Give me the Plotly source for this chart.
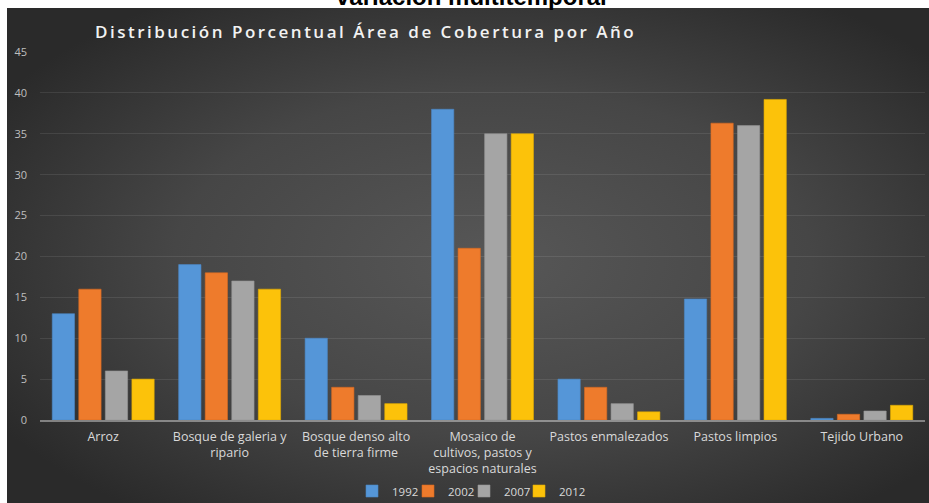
import base64
import plotly.graph_objects as go

categories = [
    "Arroz",
    "Bosque de galeria y<br>ripario",
    "Bosque denso alto<br>de tierra firme",
    "Mosaico de<br>cultivos, pastos y<br>espacios naturales",
    "Pastos enmalezados",
    "Pastos limpios",
    "Tejido Urbano",
]
years = ["1992", "2002", "2007", "2012"]
v1992 = [13, 19, 10, 38, 5, 14.8, 0.2]
v2002 = [16, 18, 4, 21, 4, 36.3, 0.7]
v2007 = [6, 17, 3, 35, 2, 36.0, 1.1]
v2012 = [5, 16, 2, 35, 1, 39.2, 1.8]
series = [v1992, v2002, v2007, v2012]
colors = ["#5596D8", "#EE7B2C", "#A5A5A5", "#FCC20A"]
edge = ["#4B86C4", "#D96A20", "#939393", "#E3AD00"]
legend_ids = ["legend", "legend2", "legend3", "legend4"]
legend_left = [352, 408, 464, 519]

W, H = 929, 503
L, R, T, B = 40, 4, 52, 83
pw, ph = W - L - R, H - T - B


def py(pix):
    """screen pixel (from top) -> paper y"""
    return (T + ph - pix) / ph


def px(pix):
    return (pix - L) / pw


BX, BY = 7, 8  # dark chart panel starts here
bw, bh = W - BX + 12, H - BY + 12
svg = (
    f'<svg xmlns="http://www.w3.org/2000/svg" width="{bw}" height="{bh}" viewBox="0 0 {bw} {bh}" preserveAspectRatio="none">'
    '<defs><radialGradient id="g" cx="0.52" cy="0.5" r="0.62">'
    '<stop offset="0" stop-color="#575757"/>'
    '<stop offset="0.55" stop-color="#464646"/>'
    '<stop offset="1" stop-color="#2a2a2a"/>'
    '</radialGradient></defs>'
    f'<rect width="{bw}" height="{bh}" fill="url(#g)"/></svg>'
)
bg_src = "data:image/svg+xml;base64," + base64.b64encode(svg.encode()).decode()

fig = go.Figure()
for name, vals, c, e, lg in zip(years, series, colors, edge, legend_ids):
    fig.add_trace(go.Bar(
        x=categories, y=vals, name=name, legend=lg,
        marker=dict(color=c, line=dict(color=e, width=0.6)),
    ))

legend_font = dict(family="Open Sans", size=11.5, color="#D9D9D9")
legends = {}
for lg, left in zip(legend_ids, legend_left):
    legends[lg] = dict(
        orientation="h",
        x=px(left), xanchor="left",
        y=py(491), yanchor="middle",
        font=legend_font,
        bgcolor="rgba(0,0,0,0)",
    )

fig.update_layout(
    width=W, height=H,
    margin=dict(l=L, r=R, t=T, b=B, autoexpand=False),
    paper_bgcolor="white",
    plot_bgcolor="rgba(0,0,0,0)",
    barmode="group",
    bargap=0.16,
    bargroupgap=0.16,
    showlegend=True,
    images=[dict(
        source=bg_src, xref="paper", yref="paper",
        x=px(BX), y=py(BY),
        sizex=bw / pw, sizey=bh / ph,
        xanchor="left", yanchor="top",
        sizing="stretch", layer="below",
    )],
    annotations=[
        dict(
            text='<span style="letter-spacing:2.5px">Distribución Porcentual Área de Cobertura por Año</span>',
            xref="paper", yref="paper",
            x=px(93), xanchor="left",
            y=py(32), yanchor="middle",
            showarrow=False,
            font=dict(family="Open Sans", size=17, color="#F2F2F2", weight=600),
        ),
        dict(
            text="<b>variación multitemporal</b>",
            xref="paper", yref="paper",
            x=px(471), xanchor="center",
            y=py(12), yanchor="bottom",
            showarrow=False,
            font=dict(family="Liberation Sans", size=24, color="#000000"),
        ),
    ],
    **legends,
)

fig.update_yaxes(
    range=[0, 45], dtick=5,
    showgrid=True, gridcolor="rgba(255,255,255,0.09)", gridwidth=1,
    zeroline=False,
    showline=False,
    tickfont=dict(family="Open Sans", size=11, color="#BFBFBF"),
    ticklabelstandoff=12,
)
fig.update_xaxes(
    showgrid=False,
    showline=True, linecolor="rgba(255,255,255,0.4)", linewidth=1.5,
    tickfont=dict(family="Open Sans", size=12.5, color="#D9D9D9"),
    ticklabelstandoff=4,
)

fig.write_html(
    "out.html",
    config={"displayModeBar": False},
    post_script="document.body.style.margin='0';document.documentElement.style.overflow='hidden';",
)
